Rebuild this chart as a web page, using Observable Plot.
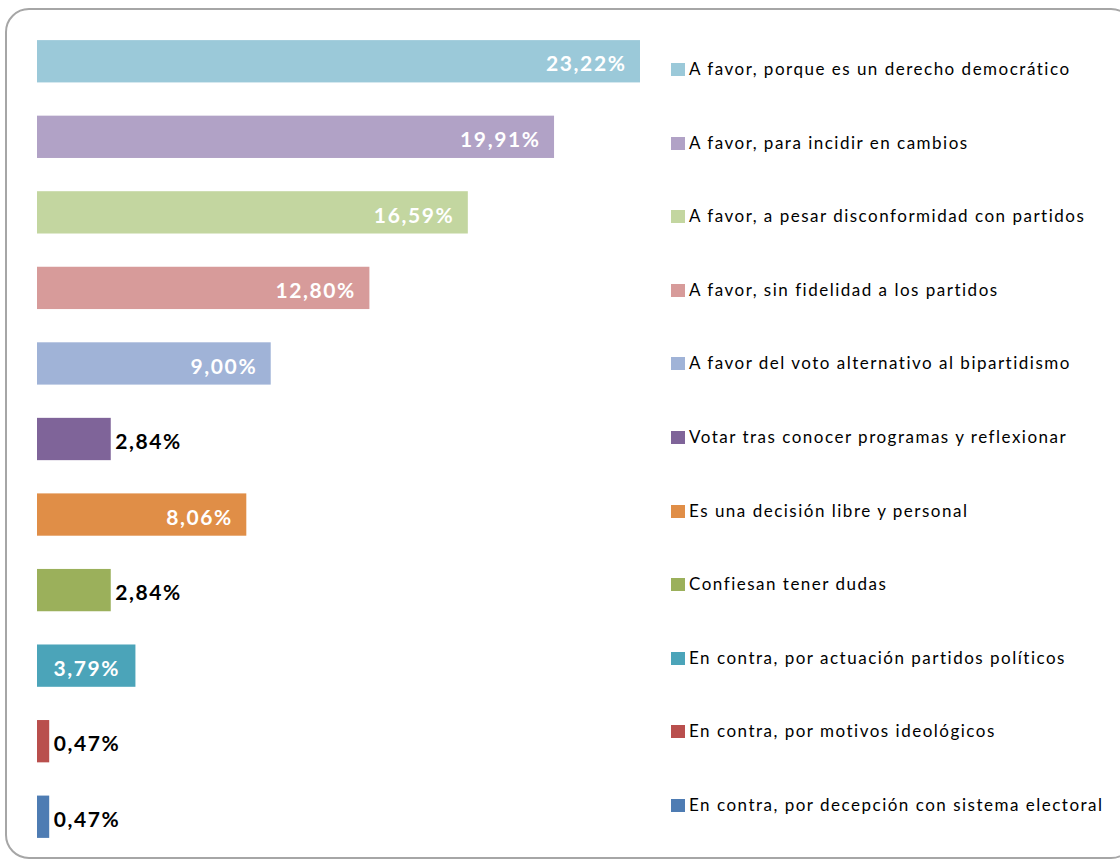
<!DOCTYPE html>
<html>
<head>
<meta charset="utf-8">
<script src="https://cdn.jsdelivr.net/npm/d3@7"></script>
<script src="https://cdn.jsdelivr.net/npm/@observablehq/plot@0.6"></script>
<style>
  html, body { margin: 0; padding: 0; background: #fff; width: 1120px; height: 863px; overflow: hidden; }
  #wrap { position: relative; width: 1120px; height: 863px; overflow: hidden; }
  #frame { position: absolute; left: 5px; top: 8px; width: 1130px; height: 851px; border: 2px solid #a6a6a6; border-radius: 24px; box-sizing: border-box; }
  #chart { position: absolute; left: 0; top: 0; }
  #legend { position: absolute; left: 671px; top: 59px; font-family: Lato, "Open Sans", sans-serif; font-size: 17px; letter-spacing: 1.5px; color: #000; }
  .item { height: 73.6px; display: flex; align-items: flex-start; }
  .item .sw { width: 14px; height: 13px; margin-top: 4px; margin-right: 4px; flex: none; }
  .item span.t { line-height: 20px; white-space: nowrap; }
</style>
</head>
<body>
<div id="wrap">
  <div id="frame"></div>
  <div id="chart"></div>
  <div id="legend"></div>
</div>
<script>
const categories = [
  "A favor, porque es un derecho democrático",
  "A favor, para incidir en cambios",
  "A favor, a pesar disconformidad con partidos",
  "A favor, sin fidelidad a los partidos",
  "A favor del voto alternativo al bipartidismo",
  "Votar tras conocer programas y reflexionar",
  "Es una decisión libre y personal",
  "Confiesan tener dudas",
  "En contra, por actuación partidos políticos",
  "En contra, por motivos ideológicos",
  "En contra, por decepción con sistema electoral"
];
const values = [23.22, 19.91, 16.59, 12.80, 9.00, 2.84, 8.06, 2.84, 3.79, 0.47, 0.47];
const colors = ["#9BC9D9", "#B1A2C6", "#C3D6A0", "#D79B9A", "#A0B3D7", "#7F6499", "#E08E47", "#9BB05B", "#4BA4B9", "#B94F4D", "#4E7CB3"];

const data = categories.map((c, i) => ({category: c, value: values[i]}));
const fmt = v => v.toFixed(2).replace(".", ",") + "%";
const inside = data.filter(d => d.value >= 5);
const center = data.filter(d => d.value >= 3 && d.value < 5);
const outside = data.filter(d => d.value < 3);

const labelStyle = {fontFamily: "Lato, 'Open Sans', sans-serif", fontSize: 21, fontWeight: "bold", dy: 3};

const chart = Plot.plot({
  width: 1120,
  height: 863,
  marginLeft: 37,
  marginRight: 480,
  marginTop: 25,
  marginBottom: 10,
  x: {domain: [0, d3.max(values)], axis: null},
  y: {domain: categories, axis: null, paddingInner: 0.44, paddingOuter: 0.2, round: false},
  color: {domain: categories, range: colors},
  style: {background: "transparent", overflow: "visible"},
  marks: [
    Plot.barX(data, {x: "value", y: "category", fill: "category"}),
    Plot.text(inside, {x: "value", y: "category", text: d => fmt(d.value), textAnchor: "end", dx: -14, fill: "white", ...labelStyle}),
    Plot.text(center, {x: d => d.value / 2, y: "category", text: d => fmt(d.value), textAnchor: "middle", fill: "white", ...labelStyle}),
    Plot.text(outside, {x: "value", y: "category", text: d => fmt(d.value), textAnchor: "start", dx: 4, fill: "#000", ...labelStyle})
  ]
});
chart.querySelectorAll("text").forEach(t => t.setAttribute("letter-spacing", "1.6"));
document.getElementById("chart").appendChild(chart);

const legend = document.getElementById("legend");
categories.forEach((c, i) => {
  const item = document.createElement("div");
  item.className = "item";
  const sw = document.createElement("div");
  sw.className = "sw";
  sw.style.background = colors[i];
  const t = document.createElement("span");
  t.className = "t";
  t.textContent = c;
  item.appendChild(sw);
  item.appendChild(t);
  legend.appendChild(item);
});
</script>
</body>
</html>
